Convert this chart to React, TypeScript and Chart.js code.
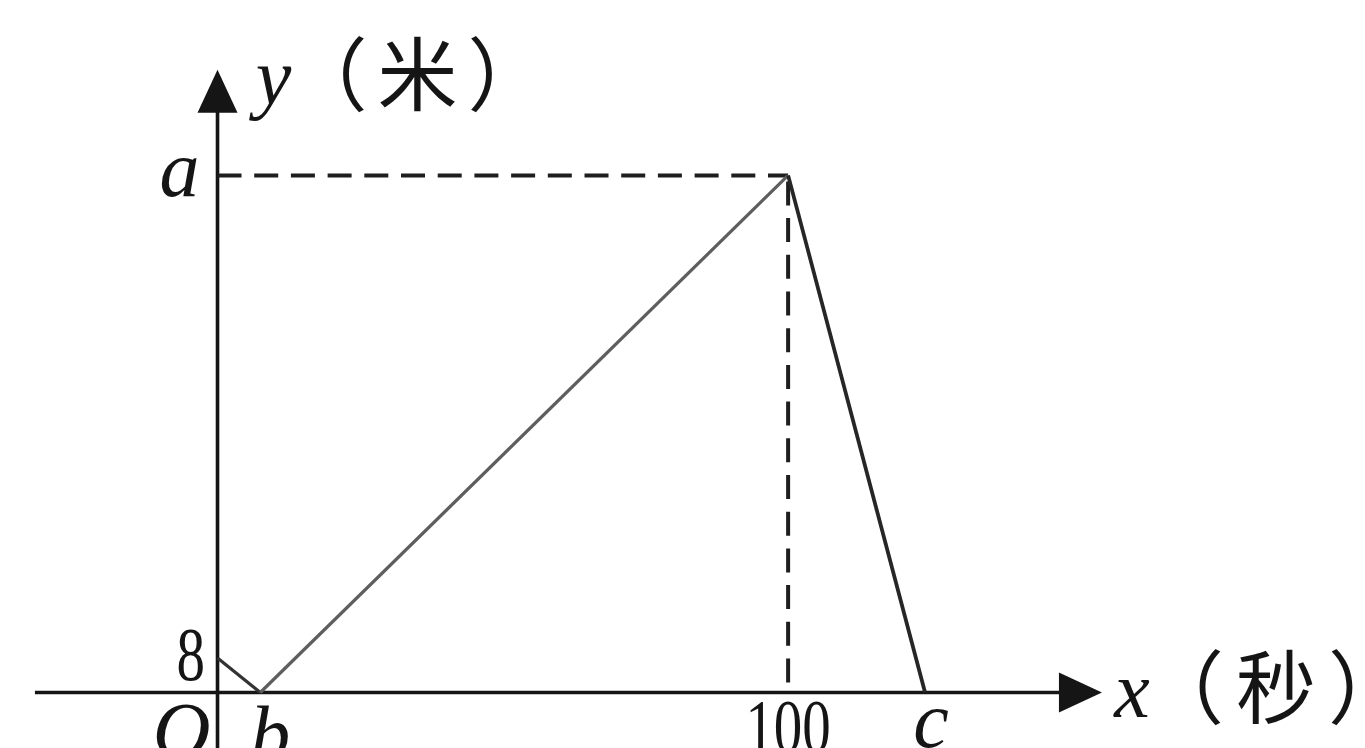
import React, { useEffect, useRef } from "react";
import { Chart, registerables } from "chart.js";

Chart.register(...registerables);

// ---- data ----
const pathX = [0, 7.5, 100, 124];
const pathY = [8, 0, 120, 0];
const guideX = [0, 100, 100];
const guideY = [120, 120, 0];
const xTickValues = [7.5, 100, 124];
const xTickLabels = ["b", "100", "c"];
const yTickValues = [8, 120];
const yTickLabels = ["8", "a"];
const xAxisTitle = ["x", "（秒）"];
const yAxisTitle = ["y", "（米）"];
const originLabel = "O";

// ---- view ----
const X_MIN = -38.12;
const X_MAX = 201.1;
const Y_MIN = -12.88;
const Y_MAX = 160.7;
const X_AXIS_START = -32;
const X_AXIS_TIP = 155;
const Y_AXIS_TIP = 144.5;

const INK = "#151515";
const SERIF = '"Liberation Serif", "Times New Roman", serif';
const CJK = '"Noto Sans CJK SC", sans-serif';

function drawText(
  ctx: CanvasRenderingContext2D,
  text: string,
  x: number,
  y: number,
  font: string,
  align: CanvasTextAlign,
  sx = 1,
  spacing = 0
) {
  ctx.save();
  ctx.translate(x, y);
  ctx.scale(sx, 1);
  ctx.font = font;
  ctx.textAlign = align;
  ctx.textBaseline = "alphabetic";
  ctx.fillStyle = INK;
  if (spacing) (ctx as any).letterSpacing = `${spacing}px`;
  ctx.fillText(text, 0, 0);
  ctx.restore();
}

const axesPlugin = {
  id: "mathAxes",
  beforeDatasetsDraw(chart: any) {
    const ctx: CanvasRenderingContext2D = chart.ctx;
    const xs = chart.scales.x;
    const ys = chart.scales.y;
    const x0 = xs.getPixelForValue(0);
    const y0 = ys.getPixelForValue(0);
    const xStart = xs.getPixelForValue(X_AXIS_START);
    const xTip = xs.getPixelForValue(X_AXIS_TIP);
    const yTip = ys.getPixelForValue(Y_AXIS_TIP);
    const yBottom = ys.getPixelForValue(Y_MIN);
    const arrowLen = 43;
    const arrowHalf = 20;
    ctx.save();
    ctx.strokeStyle = INK;
    ctx.fillStyle = INK;
    ctx.lineWidth = 3.6;
    ctx.beginPath();
    ctx.moveTo(xStart, y0);
    ctx.lineTo(xTip - arrowLen + 2, y0);
    ctx.moveTo(x0, yBottom);
    ctx.lineTo(x0, yTip + arrowLen - 2);
    ctx.stroke();
    // x arrow
    ctx.beginPath();
    ctx.moveTo(xTip, y0);
    ctx.lineTo(xTip - arrowLen, y0 - arrowHalf);
    ctx.lineTo(xTip - arrowLen, y0 + arrowHalf);
    ctx.closePath();
    ctx.fill();
    // y arrow
    ctx.beginPath();
    ctx.moveTo(x0, yTip);
    ctx.lineTo(x0 - arrowHalf, yTip + arrowLen);
    ctx.lineTo(x0 + arrowHalf, yTip + arrowLen);
    ctx.closePath();
    ctx.fill();
    ctx.restore();
  },
  afterDraw(chart: any) {
    const ctx: CanvasRenderingContext2D = chart.ctx;
    const xs = chart.scales.x;
    const ys = chart.scales.y;
    const x0 = xs.getPixelForValue(0);
    const y0 = ys.getPixelForValue(0);
    const digitFont = `77px ${SERIF}`;
    const italicFont = `italic 80px ${SERIF}`;
    const cjkFont = `80px ${CJK}`;

    // y ticks
    yTickValues.forEach((v, i) => {
      const label = yTickLabels[i];
      const py = ys.getPixelForValue(v);
      if (/^[0-9]+$/.test(label)) {
        drawText(ctx, label, x0 - 12.5, py + 22, digitFont, "right", 0.74);
      } else {
        drawText(ctx, label, x0 - 18, py + 21, italicFont, "right");
      }
    });

    // x ticks
    xTickValues.forEach((v, i) => {
      const label = xTickLabels[i];
      const px = xs.getPixelForValue(v);
      if (/^[0-9]+$/.test(label)) {
        drawText(ctx, label, px, y0 + 60, digitFont, "center", 0.74);
      } else if (label === "b") {
        drawText(ctx, label, px + 10, y0 + 69, italicFont, "center");
      } else {
        drawText(ctx, label, px + 6, y0 + 55, italicFont, "center");
      }
    });

    // origin
    drawText(ctx, originLabel, x0 - 36, y0 + 66, italicFont, "center");

    // axis titles
    const yTipPx = ys.getPixelForValue(Y_AXIS_TIP);
    drawText(ctx, yAxisTitle[0], x0 + 56, yTipPx + 34, italicFont, "center");
    drawText(ctx, yAxisTitle[1], x0 + 70, yTipPx + 34, cjkFont, "left", 1, 10);

    const xTipPx = xs.getPixelForValue(X_AXIS_TIP);
    drawText(ctx, xAxisTitle[0], xTipPx + 30, y0 + 25, italicFont, "center");
    drawText(ctx, xAxisTitle[1], xTipPx + 42, y0 + 25, cjkFont, "left", 1, 12);
  },
};

export default function App() {
  const canvasRef = useRef<HTMLCanvasElement | null>(null);

  useEffect(() => {
    const canvas = canvasRef.current;
    if (!canvas) return;
    const pathData = pathX.map((x, i) => ({ x, y: pathY[i] }));
    const hGuide = [
      { x: guideX[0], y: guideY[0] },
      { x: guideX[1], y: guideY[1] },
    ];
    const vGuide = [
      { x: guideX[1], y: guideY[1] },
      { x: guideX[2], y: guideY[2] },
    ];
    const segWidths = [3.2, 3.2, 3.8];
    const segColors = ["#333333", "#5e5e5e", "#262626"];

    const chart = new Chart(canvas, {
      type: "line",
      data: {
        datasets: [
          {
            data: pathData,
            borderColor: "#333333",
            borderWidth: 3.2,
            pointRadius: 0,
            tension: 0,
            fill: false,
            segment: {
              borderWidth: (c: any) => segWidths[c.p0DataIndex] ?? 3,
              borderColor: (c: any) => segColors[c.p0DataIndex] ?? "#222",
            },
          } as any,
          {
            data: hGuide,
            borderColor: "#1e1e1e",
            borderWidth: 4,
            borderDash: [24, 12.7],
            borderDashOffset: 0,
            borderCapStyle: "butt",
            pointRadius: 0,
            fill: false,
          },
          {
            data: vGuide,
            borderColor: "#1e1e1e",
            borderWidth: 4,
            borderDash: [24, 12.7],
            borderDashOffset: 30.7,
            borderCapStyle: "butt",
            pointRadius: 0,
            fill: false,
          },
        ],
      },
      options: {
        animation: false,
        responsive: false,
        parsing: true,
        layout: { padding: 0 },
        plugins: {
          legend: { display: false },
          tooltip: { enabled: false },
          title: { display: false },
        },
        scales: {
          x: { type: "linear", min: X_MIN, max: X_MAX, display: false },
          y: { type: "linear", min: Y_MIN, max: Y_MAX, display: false },
        },
      },
      plugins: [axesPlugin],
    } as any);

    return () => chart.destroy();
  }, []);

  return (
    <div
      style={{
        position: "fixed",
        left: 0,
        top: 0,
        width: 1365,
        height: 748,
        background: "#ffffff",
      }}
    >
      <canvas
        ref={canvasRef}
        width={1365}
        height={748}
        style={{ display: "block", width: 1365, height: 748 }}
      />
    </div>
  );
}
